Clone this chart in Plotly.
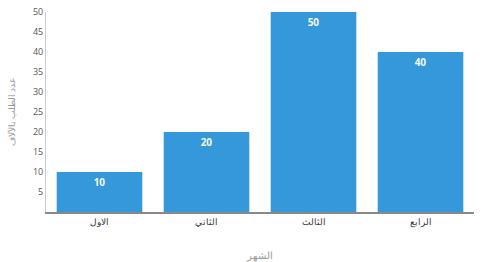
import plotly.graph_objects as go

months = ["الاول", "الثاني", "الثالث", "الرابع"]
orders = [10, 20, 50, 40]
y_ticks = [5, 10, 15, 20, 25, 30, 35, 40, 45, 50]

fig = go.Figure(go.Bar(
    x=months, y=orders,
    marker=dict(color="#3498db", line=dict(width=0)),
    text=[f"<b>{v}</b>" for v in orders], textposition="inside",
    insidetextanchor="end",
    textfont=dict(color="#f4f8e8", size=10, family="Open Sans"),
    cliponaxis=False,
))

fig.update_layout(
    width=500, height=262,
    margin=dict(l=46, r=26, t=12, b=50),
    paper_bgcolor="white", plot_bgcolor="white",
    bargap=0.2,
    showlegend=False,
    font=dict(family="Open Sans", color="#555"),
    xaxis=dict(
        automargin=False,
        showline=True, linecolor="#888", linewidth=1.5,
        showgrid=False, ticks="", tickfont=dict(size=9, color="#333"),
        title=dict(text="الشهر", font=dict(size=10, color="#999"), standoff=25),
    ),
    yaxis=dict(
        automargin=False,
        range=[0, 50], tickvals=y_ticks,
        showline=True, linecolor="#ccc", linewidth=1,
        showgrid=False, zeroline=False, ticks="",
        tickfont=dict(size=9, color="#555"),
        title=dict(text="عدد الطلب بالآلاف", font=dict(size=9, color="#999"), standoff=15),
    ),
)

fig.write_html("out.html")
